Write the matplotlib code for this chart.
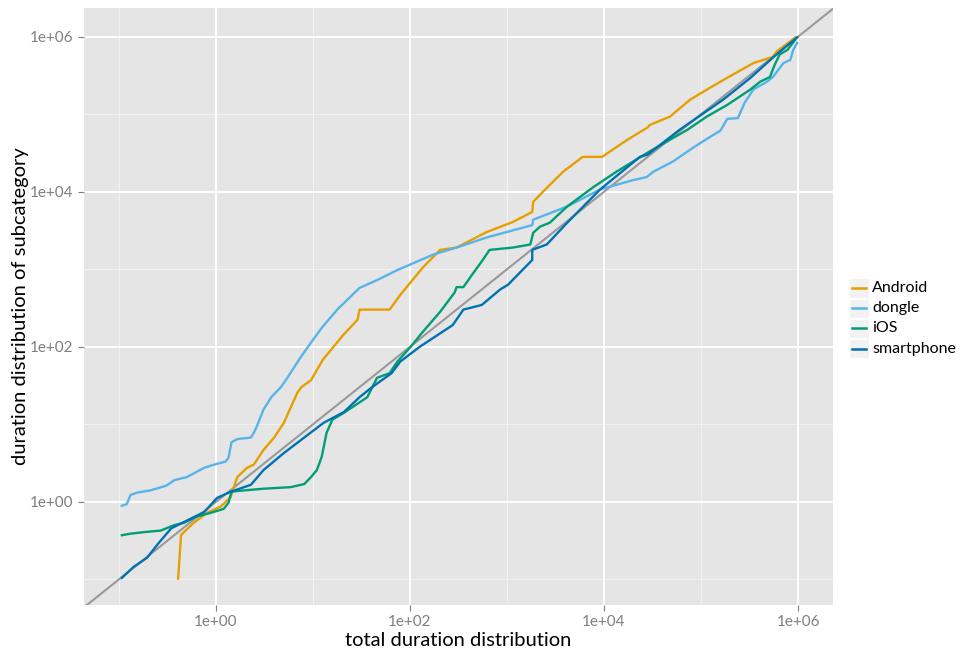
import numpy as np
import matplotlib
matplotlib.use("Agg")
import matplotlib.pyplot as plt
from matplotlib.lines import Line2D
from matplotlib.patches import Rectangle

plt.rcParams['font.family'] = ['Lato', 'DejaVu Sans']

# log10 quantiles: total duration (x) vs. subcategory duration (y)
android_x = [-0.39, -0.36, -0.33, -0.23, -0.09, 0.05, 0.15, 0.22, 0.32, 0.39, 0.49, 0.60, 0.70, 0.84,
             0.88, 0.98, 1.10, 1.31, 1.46, 1.48, 1.79, 1.90, 2.13, 2.31, 2.48, 2.79, 3.06, 3.26, 3.27,
             3.37, 3.58, 3.78, 3.98, 4.24, 4.45, 4.47, 4.68, 4.89, 5.09, 5.27, 5.54, 5.74, 5.78, 5.92, 5.97]
android_y = [-0.99, -0.43, -0.39, -0.27, -0.14, -0.06, 0.06, 0.32, 0.44, 0.48, 0.67, 0.83, 1.02, 1.41,
             1.48, 1.57, 1.83, 2.15, 2.35, 2.48, 2.48, 2.67, 3.02, 3.25, 3.28, 3.48, 3.61, 3.74, 3.87,
             4.00, 4.26, 4.45, 4.45, 4.67, 4.83, 4.86, 4.97, 5.19, 5.34, 5.47, 5.66, 5.74, 5.81, 5.94, 5.99]

dongle_x = [-0.97, -0.92, -0.88, -0.81, -0.67, -0.51, -0.43, -0.30, -0.12, -0.02, 0.10, 0.13, 0.16, 0.22,
            0.36, 0.39, 0.42, 0.49, 0.57, 0.67, 0.72, 0.87, 1.00, 1.10, 1.25, 1.48, 1.66, 1.87, 2.24,
            2.48, 2.79, 3.26, 3.27, 3.62, 3.96, 4.30, 4.44, 4.51, 4.71, 4.92, 5.02, 5.20, 5.27, 5.38,
            5.45, 5.54, 5.68, 5.74, 5.85, 5.92, 5.95, 5.99]
dongle_y = [-0.05, -0.03, 0.09, 0.12, 0.15, 0.21, 0.28, 0.32, 0.44, 0.48, 0.52, 0.57, 0.77, 0.81,
            0.83, 0.89, 0.97, 1.19, 1.35, 1.48, 1.57, 1.86, 2.09, 2.26, 2.48, 2.76, 2.86, 2.99, 3.19,
            3.28, 3.41, 3.57, 3.64, 3.81, 4.03, 4.15, 4.19, 4.26, 4.39, 4.57, 4.65, 4.79, 4.94, 4.95,
            5.15, 5.32, 5.42, 5.48, 5.66, 5.70, 5.83, 5.92]

ios_x = [-0.97, -0.88, -0.74, -0.57, -0.43, -0.33, -0.20, -0.05, 0.08, 0.13, 0.16, 0.22, 0.49, 0.77,
         0.91, 0.98, 1.04, 1.09, 1.14, 1.20, 1.32, 1.56, 1.66, 1.79, 1.87, 2.00, 2.13, 2.31, 2.46,
         2.48, 2.55, 2.64, 2.75, 2.82, 3.06, 3.24, 3.27, 3.34, 3.44, 3.62, 3.89, 4.13, 4.47, 4.86,
         5.06, 5.27, 5.51, 5.61, 5.71, 5.76, 5.81, 5.89, 5.97]
ios_y = [-0.43, -0.41, -0.39, -0.37, -0.30, -0.27, -0.19, -0.14, -0.09, -0.01, 0.13, 0.14, 0.17, 0.19,
         0.23, 0.32, 0.41, 0.58, 0.89, 1.06, 1.15, 1.35, 1.60, 1.66, 1.81, 1.99, 2.19, 2.45, 2.70,
         2.77, 2.77, 2.93, 3.12, 3.25, 3.28, 3.32, 3.47, 3.55, 3.60, 3.81, 4.06, 4.26, 4.52, 4.80,
         4.97, 5.12, 5.32, 5.42, 5.48, 5.64, 5.77, 5.83, 5.96]

smartphone_x = [-0.97, -0.85, -0.71, -0.59, -0.46, -0.33, -0.12, 0.01, 0.15, 0.36, 0.49, 0.70, 0.91,
                1.11, 1.32, 1.48, 1.61, 1.81, 1.90, 2.10, 2.44, 2.55, 2.74, 2.93, 3.01, 3.26, 3.26,
                3.41, 3.62, 3.96, 4.37, 4.45, 4.78, 5.23, 5.51, 5.74, 5.92, 5.99]
smartphone_y = [-0.98, -0.84, -0.72, -0.53, -0.34, -0.26, -0.13, 0.05, 0.13, 0.22, 0.41, 0.63, 0.83,
                1.02, 1.16, 1.35, 1.48, 1.66, 1.81, 2.00, 2.28, 2.48, 2.54, 2.74, 2.80, 3.12, 3.25,
                3.32, 3.60, 4.03, 4.45, 4.48, 4.80, 5.19, 5.47, 5.73, 5.92, 5.99]

labels = ["Android", "dongle", "iOS", "smartphone"]
colors = ["#E69F00", "#56B4E9", "#009E73", "#0072B2"]
series = [(android_x, android_y), (dongle_x, dongle_y), (ios_x, ios_y), (smartphone_x, smartphone_y)]

fig = plt.figure(figsize=(9.65, 6.52), dpi=100)
ax = fig.add_axes([84 / 965, 1 - 605 / 652, (833 - 84) / 965, (605 - 8) / 652])
ax.set_facecolor("#E5E5E5")

xlim = (10 ** -1.36, 10 ** 6.36)
ylim = (10 ** -1.33, 10 ** 6.37)
ax.set_xscale("log")
ax.set_yscale("log")

# grid: white majors at even decades, lighter minors at odd decades
for d in [-1, 1, 3, 5]:
    ax.axvline(10.0 ** d, color="#F2F2F2", lw=0.8, zorder=0)
    ax.axhline(10.0 ** d, color="#F2F2F2", lw=0.8, zorder=0)
for d in [0, 2, 4, 6]:
    ax.axvline(10.0 ** d, color="white", lw=1.4, zorder=0)
    ax.axhline(10.0 ** d, color="white", lw=1.4, zorder=0)

# identity reference line
ref = np.array([1e-3, 1e8])
ax.plot(ref, ref, color="#999999", lw=1.5, zorder=1)

for (xs, ys), c, lab in zip(series, colors, labels):
    ax.plot(10.0 ** np.array(xs), 10.0 ** np.array(ys), color=c, lw=1.7, label=lab, zorder=2)

ax.set_xlim(*xlim)
ax.set_ylim(*ylim)
ticks = [1e0, 1e2, 1e4, 1e6]
tick_labels = ["1e+00", "1e+02", "1e+04", "1e+06"]
ax.set_xticks(ticks)
ax.set_xticklabels(tick_labels)
ax.set_yticks(ticks)
ax.set_yticklabels(tick_labels)
ax.minorticks_off()
ax.tick_params(axis="both", colors="#7F7F7F", labelcolor="#7F7F7F", labelsize=11,
               length=4, width=0.8, direction="out")
for s in ax.spines.values():
    s.set_visible(False)

ax.set_xlabel("total duration distribution", fontsize=14.5, labelpad=2)
ax.set_ylabel("duration distribution of subcategory", fontsize=14.5, labelpad=1)

# legend with grey key backgrounds
for i, (c, lab) in enumerate(zip(colors, labels)):
    yc = 1 - (288 + i * 20.2) / 652
    fig.patches.append(Rectangle((849 / 965, yc - 9.5 / 652), 20 / 965, 19 / 652,
                                 transform=fig.transFigure, facecolor="#F2F2F2",
                                 edgecolor="white", lw=0.8))
    fig.lines.append(Line2D([852 / 965, 866 / 965], [yc, yc], transform=fig.transFigure,
                            color=c, lw=1.8))
    fig.text(872 / 965, yc, lab, fontsize=11.5, va="center", ha="left")

fig.savefig("out.png", dpi=100)
